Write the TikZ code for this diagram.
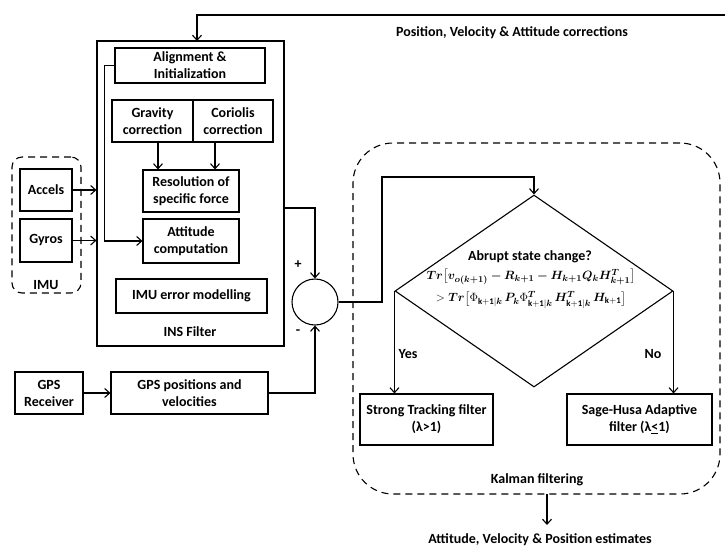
\documentclass[tikz,border=0pt]{standalone}
\usepackage{amsmath}
\usepackage{bm}
\usepackage{fontspec}
\setmainfont{Carlito}
\usetikzlibrary{arrows.meta,shapes.geometric,calc}
\newcommand{\myfs}{\bfseries\fontsize{14}{17}\selectfont}
\newcommand{\fone}{$\bm{Tr}\bigl[\bm{v_{o(k+1)}-R_{k+1}-H_{k+1}Q_kH^{T}_{k+1}}\bigr]$}
\newcommand{\ftwo}{$>\bm{Tr}\bigl[\Phi_{\mathbf{k+1}\vert\bm{k}}\,\bm{P_k}\Phi^{\bm{T}}_{\mathbf{k+1}\vert\bm{k}}\,\bm{H}^{\bm{T}}_{\mathbf{k+1}\vert\bm{k}}\,\bm{H}_{\mathbf{k+1}}\bigr]$}
\tikzset{
  box/.style={draw, line width=1.1pt, align=center, inner sep=0pt, font=\myfs},
  arr/.style={line width=1.1pt, -{Straight Barb[length=5pt,width=9pt]}},
  lbl/.style={font=\myfs, inner sep=0pt, align=center},
  formula/.style={inner sep=0pt, font=\fontsize{12.5}{15}\selectfont},
  dashbox/.style={draw, line width=1.1pt, dash pattern=on 7pt off 5pt}
}
\begin{document}
\begin{tikzpicture}[x=1pt,y=-1pt]
\useasboundingbox (0,0) rectangle (725,547);
% INS filter block
\node[box, minimum width=187pt, minimum height=305pt] (ins) at (190.5,193.5) {};
\node[box, minimum width=150pt, minimum height=35pt] (align) at (190,65.5) {Alignment \&\\Initialization};
\node[box, minimum width=81pt, minimum height=42pt] (grav) at (152.5,121) {Gravity\\correction};
\node[box, minimum width=80pt, minimum height=42pt] (cor) at (233,121) {Coriolis\\correction};
\node[box, minimum width=96pt, minimum height=42pt] (reso) at (191,191) {Resolution of\\specific force};
\node[box, minimum width=96pt, minimum height=44pt] (att) at (191,241) {Attitude\\computation};
\node[box, minimum width=151pt, minimum height=34pt] (imuerr) at (191.5,296) {IMU error modelling};
\node[lbl] (inslbl) at (190,332) {INS Filter};
% IMU
\node[dashbox, rounded corners=10pt, minimum width=69pt, minimum height=136pt] (imu) at (46.5,225) {};
\node[box, minimum width=52pt, minimum height=42pt] (accels) at (46,190) {Accels};
\node[box, minimum width=52pt, minimum height=43pt] (gyros) at (46,240.5) {Gyros};
\node[lbl] (imulbl) at (46,285) {IMU};
% GPS
\node[box, minimum width=68pt, minimum height=42pt] (gpsr) at (49,393) {GPS\\Receiver};
\node[box, minimum width=157pt, minimum height=42pt] (gpsp) at (189.5,393) {GPS positions and\\velocities};
% summing junction
\node[draw, circle, line width=1.1pt, minimum size=46pt, inner sep=0pt] (sum) at (315,302) {};
\node[lbl] (plus) at (298,265) {+};
\node[lbl] (minus) at (298,332) {-};
% Kalman filtering
\node[dashbox, rounded corners=40pt, minimum width=367pt, minimum height=351pt] (kal) at (536.5,318.5) {};
\node[draw, diamond, line width=1.1pt, minimum width=278pt, minimum height=192pt, inner sep=0pt, aspect=1.45] (dia) at (534,291) {};
\node[lbl] (q) at (530,257) {Abrupt state change?};
\node[formula] (f1) at (531,277) {\fone};
\node[formula] (f2) at (531,300) {\ftwo};
\node[lbl] (yes) at (408,354) {Yes};
\node[lbl] (no) at (653,354) {No};
\node[box, minimum width=133pt, minimum height=51pt] (stf) at (426.5,419.5) {Strong Tracking filter\\(λ>1)};
\node[box, minimum width=145pt, minimum height=51pt] (shf) at (639.5,419.5) {Sage-Husa Adaptive\\filter (λ\underline{<}1)};
\node[lbl] (kallbl) at (537,480) {Kalman filtering};
\node[lbl] (corr) at (512,33) {Position, Velocity \& Attitude corrections};
\node[lbl] (est) at (540,540) {Attitude, Velocity \& Position estimates};
% coordinates
\coordinate (fbstart) at (725,15);
\coordinate (insin) at (197,41);
\coordinate (g1) at (158,142);
\coordinate (c1) at (215,142);
\coordinate (insout) at (284,208);
\coordinate (k1) at (382,177);
\coordinate (kout) at (547,494);
\coordinate (estin) at (547,525);
% connectors
\draw[arr] (fbstart) -| (insin);
\draw[arr] (align.west) -- ++(-10,0) |- (att.west);
\draw[arr] (g1) -- (g1 |- reso.north);
\draw[arr] (c1) -- (c1 |- reso.north);
\draw[arr] (accels.east) -- (accels.east -| ins.west);
\draw[arr] (gyros.east) -- (gyros.east -| ins.west);
\draw[arr] (insout) -| (sum.north);
\draw[arr] (gpsr.east) -- (gpsp.west);
\draw[arr] (gpsp.east) -| (sum.south);
\draw[arr] (sum.east) -| (k1) -| (dia.north);
\draw[arr] (dia.west) -- (dia.west |- stf.north);
\draw[arr] (dia.east) -- (dia.east |- shf.north);
\draw[arr] (kout) -- (estin);
\end{tikzpicture}
\end{document}
